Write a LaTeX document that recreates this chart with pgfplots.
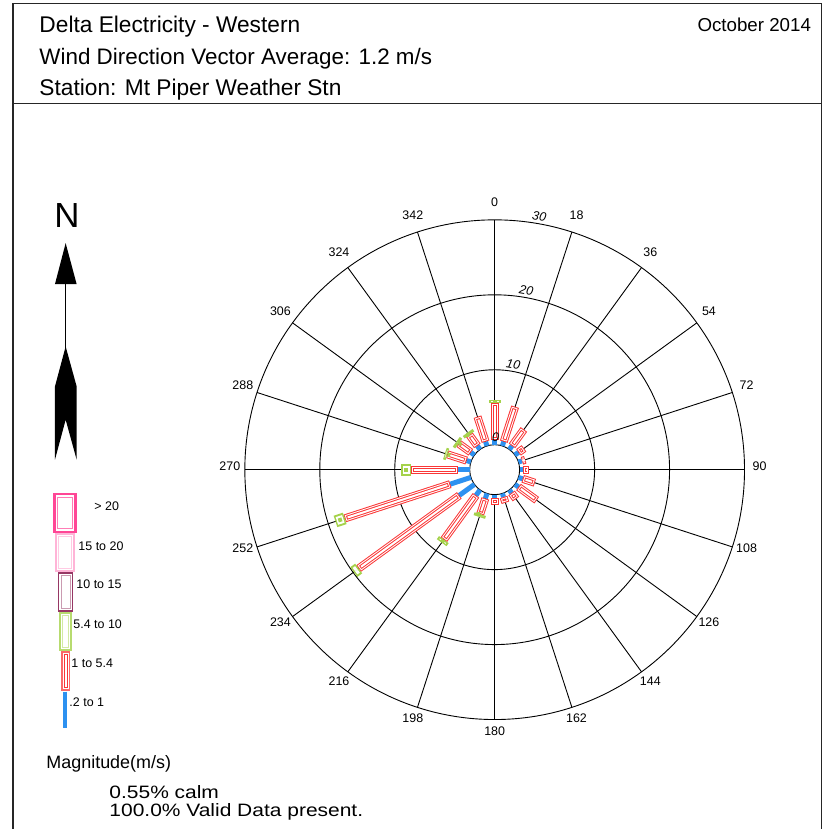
\documentclass[border=0pt]{standalone}
\usepackage{pgfplots}
\pgfplotsset{compat=1.18}
\usepackage{pgfplotstable}
\usepackage{fontspec}
\setmainfont{Liberation Sans}
\newfontfamily\widefont[FakeStretch=1.17]{Liberation Sans}

\definecolor{wblue}{RGB}{45,145,240}
\definecolor{wred}{RGB}{250,55,55}
\definecolor{wgreen}{RGB}{165,210,75}
\definecolor{wpink}{RGB}{255,70,150}
\definecolor{wlpink}{RGB}{255,180,215}
\definecolor{wmaroon}{RGB}{150,55,100}

% rose geometry (px): centre, radius of calm circle, px per percent
\def\cx{495}\def\cy{470}\def\rz{25}\def\sc{7.5}

% frequency (%) by direction, cumulative class limits
\pgfplotstableread{
dir from to
0   0 0.6
18  0 0.6
36  0 0.6
54  0 0.6
72  0 0.5
90  0 0.4
108 0 0.6
126 0 0.6
144 0 0.5
162 0 0.5
180 0 0.5
198 0 0.7
216 0 0.9
234 0 2.5
252 0 2.9
270 0 1.6
288 0 0.6
306 0 0.6
324 0 0.6
342 0 0.6
}\bluetab

\pgfplotstableread{
dir from to
0   0.6 5.55
18  0.6 5.5
36  0.6 3.3
54  0.6 1.5
72  0.5 0.95
90  0.4 1.3
108 0.6 2.3
126 0.6 3.6
144 0.5 1.5
162 0.5 1.3
180 0.5 1.4
198 0.7 2.9
216 0.9 8.2
234 2.5 19.1
252 2.9 17.7
270 1.6 7.8
288 0.6 3.3
306 0.6 2.6
324 0.6 2.4
342 0.6 4.1
}\redtab

\pgfplotstableread{
dir from to
0   5.55 6.0
198 2.9  3.3
216 8.2  8.7
234 19.1 19.9
252 17.7 19.0
270 7.8  9.1
288 3.3  3.65
306 2.6  3.0
324 2.4  2.8
}\greentab

% one layer of bars: table, colour, width, shortening at both ends
\newcommand\barlayer[4]{%
  \addplot[no markers, draw=#2,
    quiver={u={\sc*(\thisrow{to}-\thisrow{from})*sin(\thisrow{dir})},
            v={-\sc*(\thisrow{to}-\thisrow{from})*cos(\thisrow{dir})},
            every arrow/.append style={line width=#3, shorten <=#4, shorten >=#4}}]
    table[x expr={\cx+(\rz+\sc*\thisrow{from})*sin(\thisrow{dir})},
          y expr={\cy-(\rz+\sc*\thisrow{from})*cos(\thisrow{dir})}] {#1};}

\pgfplotsset{page/.style={
    x=1bp, y=1bp,
    xmin=0, xmax=825, ymin=0, ymax=830,
    y dir=reverse,
    hide axis,
    clip=false,
    anchor=south west, at={(0,0)},
}}

\begin{document}
\begin{tikzpicture}
% background: frame, header, grid
\begin{axis}[page]
\path (0,0) rectangle (825,830);
\draw[black!85, line width=1.1bp] (13,3.5) -- (822,3.5) (13,104) -- (822,104)
  (13,3.5) -- (13,830) (822,3.5) -- (822,830);

\node[anchor=base west, font=\fontsize{22.8}{27}\selectfont] at (36,33) {Delta Electricity - Western};
\node[anchor=base west, font=\fontsize{22.5}{27}\selectfont] at (36,65) {Wind Direction Vector Average: 1.2 m/s};
\node[anchor=base west, font=\fontsize{22.8}{27}\selectfont] at (36,96) {Station: Mt Piper Weather Stn};
\node[anchor=base east, font=\fontsize{18.8}{22}\selectfont] at (815,32) {October 2014};

\pgfplotsinvokeforeach{0,18,...,342}{
  \draw[black, line width=0.9bp] ({\cx+25*sin(#1)},{\cy-25*cos(#1)}) -- ({\cx+250*sin(#1)},{\cy-250*cos(#1)});
  \node[font=\fontsize{12.5}{14}\selectfont] at ({\cx+265*sin(#1)},{\cy-3-265*cos(#1)}) {#1};
}
\draw[black, line width=0.9bp] (\cx,\cy) circle[radius=25bp];
\draw[black, line width=0.9bp] (\cx,\cy) circle[radius=100bp];
\draw[black, line width=0.9bp] (\cx,\cy) circle[radius=175bp];
\draw[black, line width=0.9bp] (\cx,\cy) circle[radius=250bp];
\end{axis}

% bars, labels on top, legend
\begin{axis}[page]
\barlayer{\bluetab}{wblue}{5bp}{0bp}
\barlayer{\redtab}{wred}{8bp}{0bp}
\barlayer{\redtab}{white}{6bp}{1bp}
\barlayer{\redtab}{wred}{4bp}{2bp}
\barlayer{\redtab}{white}{2bp}{3bp}
\barlayer{\greentab}{wgreen}{12bp}{0bp}
\barlayer{\greentab}{white}{8bp}{1.5bp}
\barlayer{\greentab}{wgreen}{4bp}{3bp}

\node[font=\fontsize{12.5}{14}\itshape] at (496,437) {0};
\node[font=\fontsize{12.5}{14}\itshape, rotate=-10] at ({\cx+107*sin(10)},{\cy-107*cos(10)}) {10};
\node[font=\fontsize{12.5}{14}\itshape, rotate=-10] at ({\cx+182*sin(10)},{\cy-182*cos(10)}) {20};
\node[font=\fontsize{12.5}{14}\itshape, rotate=-10] at ({\cx+257*sin(10)},{\cy-257*cos(10)}) {30};

% north arrow
\node[font=\fontsize{35}{40}\selectfont] at (67,216) {N};
\draw[black, line width=1bp] (65.7,284) -- (65.7,350);
\fill[black] (65.7,243.3) -- (76.7,284.3) -- (55,284.3) -- cycle;
\fill[black] (65.7,346.7) -- (76.7,386.7) -- (76.7,460) -- (65.7,420) -- (55,460) -- (55,386.7) -- cycle;

% legend
\draw[wpink, line width=2.2bp] (54.5,494.5) rectangle (75.5,532);
\draw[wpink!70, line width=0.9bp] (57.5,497.5) rectangle (72.5,529);
\draw[wlpink, line width=2.2bp] (56,534) rectangle (74,571);
\draw[wlpink!70, line width=0.9bp] (58.5,536.5) rectangle (71.5,568.5);
\draw[wmaroon, line width=1.8bp] (58.5,573.5) rectangle (72.5,611);
\draw[wmaroon!50, line width=0.9bp] (61,576) rectangle (70,608.5);
\draw[wgreen!80, line width=1.8bp] (60,613.5) rectangle (71,650.5);
\draw[wgreen!50, line width=0.9bp] (62.2,615.7) rectangle (68.8,648.3);
\draw[wred!75, line width=1.6bp] (62.2,652.5) rectangle (69.5,690.5);
\draw[wred, line width=0.8bp] (64.5,655) rectangle (67.2,688);
\draw[wblue, line width=3.5bp] (65,692) -- (65,728);
\node[anchor=west, font=\fontsize{12.5}{14}\selectfont] at (91,507) {> 20};
\node[anchor=west, font=\fontsize{12.5}{14}\selectfont] at (75,547) {15 to 20};
\node[anchor=west, font=\fontsize{12.5}{14}\selectfont] at (73,585) {10 to 15};
\node[anchor=west, font=\fontsize{12.5}{14}\selectfont] at (70,625) {5.4 to 10};
\node[anchor=west, font=\fontsize{12.5}{14}\selectfont] at (68,664) {1 to 5.4};
\node[anchor=west, font=\fontsize{12.5}{14}\selectfont] at (66,703) {.2 to 1};

% footer
\node[anchor=base west, font=\fontsize{18}{21}\selectfont] at (43,769) {Magnitude(m/s)};
\node[anchor=base west, font=\widefont\fontsize{18}{21}\selectfont] at (106,799) {0.55\% calm};
\node[anchor=base west, font=\widefont\fontsize{18}{21}\selectfont] at (106,817) {100.0\% Valid Data present.};
\end{axis}
\end{tikzpicture}
\end{document}
